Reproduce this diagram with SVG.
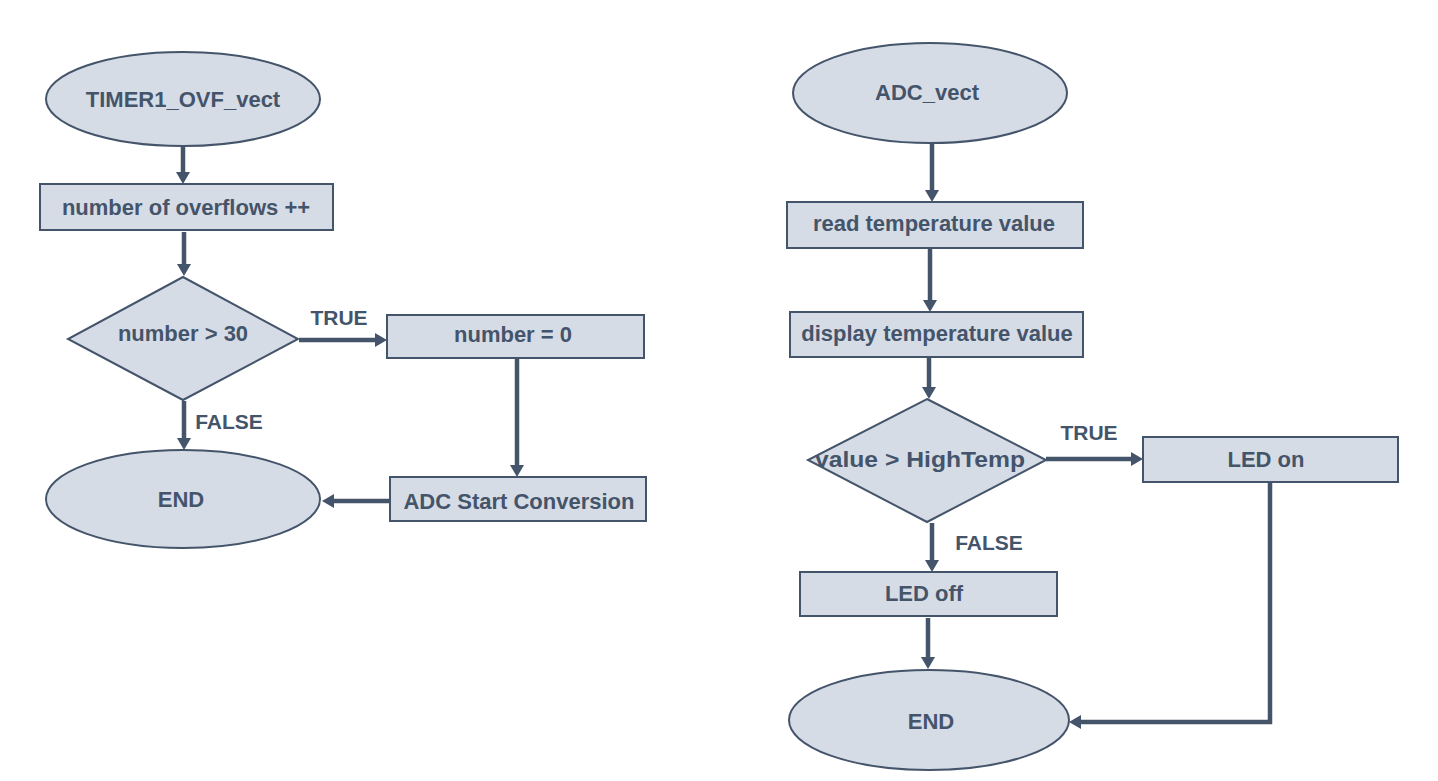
<svg xmlns="http://www.w3.org/2000/svg" width="1438" height="781" viewBox="0 0 1438 781">
<style>
.shape{fill:#D6DCE5;stroke:#44546A;stroke-width:2}
.t{font-family:"Liberation Sans",Arial,sans-serif;font-weight:bold;font-size:22px;fill:#44546A;text-anchor:middle}
.lbl{font-family:"Liberation Sans",Arial,sans-serif;font-weight:bold;font-size:21px;fill:#44546A;text-anchor:middle}
.c{fill:none;stroke:#44546A;stroke-width:4.5;marker-end:url(#ah)}
</style>
<defs>
<marker id="ah" viewBox="0 0 12 14" refX="0" refY="7" markerWidth="12" markerHeight="14" markerUnits="userSpaceOnUse" orient="auto">
<path d="M0,0 L12,7 L0,14 z" fill="#44546A"/>
</marker>
</defs>
<rect width="1438" height="781" fill="#FFFFFF"/>
<g id="timer1_start"><ellipse class="shape" cx="183" cy="99" rx="137" ry="47"/><text class="t" x="183" y="107">TIMER1_OVF_vect</text></g>
<g id="overflows_inc"><rect class="shape" x="40" y="184" width="293" height="46"/><text class="t" x="186" y="215">number of overflows ++</text></g>
<g id="number_check"><polygon class="shape" points="183,277 298,339 183,400 68,339"/><text class="t" x="183" y="341">number &gt; 30</text></g>
<g id="number_reset"><rect class="shape" x="387" y="315" width="257" height="43"/><text class="t" x="513" y="342">number = 0</text></g>
<g id="adc_start"><rect class="shape" x="390" y="477" width="256" height="44"/><text class="t" x="519" y="509">ADC Start Conversion</text></g>
<g id="end_left"><ellipse class="shape" cx="183" cy="499" rx="137" ry="49"/><text class="t" x="181" y="507">END</text></g>
<g id="adc_vect"><ellipse class="shape" cx="930" cy="93" rx="137" ry="50"/><text class="t" x="927" y="100">ADC_vect</text></g>
<g id="read_temp"><rect class="shape" x="787" y="202" width="296" height="46"/><text class="t" x="934" y="231">read temperature value</text></g>
<g id="display_temp"><rect class="shape" x="790" y="312" width="293" height="45"/><text class="t" x="937" y="341">display temperature value</text></g>
<g id="value_check"><polygon class="shape" points="927,399 1046,460 927,522 808,460"/><text class="t" x="920" y="467" textLength="210" lengthAdjust="spacingAndGlyphs">value &gt; HighTemp</text></g>
<g id="led_on"><rect class="shape" x="1143" y="437" width="255" height="45"/><text class="t" x="1266" y="467">LED on</text></g>
<g id="led_off"><rect class="shape" x="800" y="572" width="257" height="44"/><text class="t" x="924" y="601">LED off</text></g>
<g id="end_right"><ellipse class="shape" cx="929" cy="720" rx="140" ry="50"/><text class="t" x="931" y="729">END</text></g>
<g id="connectors">
<path class="c" d="M183,147 V172"/>
<path class="c" d="M184,232 V264"/>
<path class="c" d="M299,340 H375"/>
<path class="c" d="M517,359 V465"/>
<path class="c" d="M390,501 H334"/>
<path class="c" d="M184,401 V438"/>
<path class="c" d="M932,143 V190"/>
<path class="c" d="M930,249 V300"/>
<path class="c" d="M929,358 V387"/>
<path class="c" d="M1046,459 H1131"/>
<path class="c" d="M932,523 V560"/>
<path class="c" d="M928,618 V657"/>
<path class="c" d="M1270,482 V722 H1081"/>
<text class="lbl" x="339" y="325">TRUE</text>
<text class="lbl" x="229" y="429">FALSE</text>
<text class="lbl" x="1089" y="440">TRUE</text>
<text class="lbl" x="989" y="550">FALSE</text>
</g>
</svg>
